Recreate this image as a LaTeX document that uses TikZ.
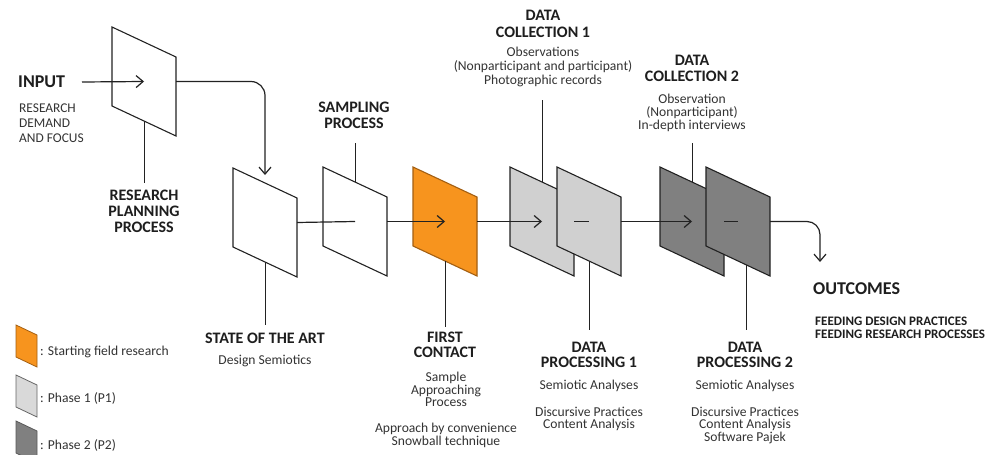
\documentclass[tikz,border=0pt]{standalone}
\usepackage{fontspec}
\setmainfont{Carlito}
\usetikzlibrary{arrows.meta}
\definecolor{orangefill}{HTML}{F7941E}
\definecolor{orangeline}{HTML}{A35F12}
\definecolor{lightfill}{HTML}{D0D0D0}
\definecolor{darkfill}{HTML}{808080}
\definecolor{inkline}{HTML}{222222}
\definecolor{headtext}{HTML}{1E1E1E}
\definecolor{bodytext}{HTML}{333333}
\newcommand{\plane}[4]{%
  \path[panel,#4] (#2,#3) -- ++(64,30) -- ++(0,79) -- ++(-64,-30) -- cycle;
  \coordinate (#1-c) at ({#2+32},{#3+54.5});
  \coordinate (#1-r) at ({#2+64},{#3+54.5});
  \coordinate (#1-t) at ({#2+32},{#3+15});
  \coordinate (#1-b) at ({#2+32},{#3+94});
}
\newcommand{\swatch}[3]{%
  \path[swatchbox,#3] (#1,#2) -- ++(21,10) -- ++(0,32) -- ++(-21,-10) -- cycle;
}
\begin{document}
\begin{tikzpicture}[x=1pt,y=-1pt,
  panel/.style={draw=inkline, line width=1.1pt, line join=miter},
  swatchbox/.style={line width=0.8pt},
  flow/.style={draw=inkline, line width=1.2pt},
  flowarrow/.style={flow, -{Straight Barb[length=7pt,width=12pt,line width=1.2pt]}},
  stem/.style={draw=inkline, line width=1pt},
  head/.style={font=\bfseries\fontsize{16}{16}\selectfont, text=headtext, align=center, inner sep=0pt, anchor=north},
  body/.style={font=\fontsize{13.6}{13}\selectfont, text=bodytext, align=center, inner sep=0pt, anchor=north},
  big/.style={font=\bfseries\fontsize{18}{18}\selectfont, text=headtext, inner sep=0pt, anchor=base west},
  legendtext/.style={font=\fontsize{13.6}{13}\selectfont, text=bodytext, inner sep=0pt, anchor=west}]
\useasboundingbox[fill=white] (0,0) rectangle (993,455);

% panels
\plane{pa}{112}{27}{fill=white}
\plane{pb}{233}{168}{fill=white}
\plane{pc}{323}{167}{fill=white}
\plane{pd}{413}{167}{fill=orangefill,draw=orangeline}
\plane{pe}{510}{167}{fill=lightfill}
\plane{pf}{557}{167}{fill=lightfill}
\plane{pg}{660}{167}{fill=darkfill}
\plane{ph}{706}{167}{fill=darkfill}

% free ends
\coordinate (in0) at (82,82);
\coordinate (pbin) at (265,175);
\coordinate (out0) at (820,262);
\coordinate (phs) at (746,265);
\coordinate (s1) at (144,183);
\coordinate (s2) at (265,325);
\coordinate (s3) at (355,143);
\coordinate (s4) at (445,327);
\coordinate (s5) at (542,100);
\coordinate (s6) at (589,330);
\coordinate (s7) at (692,143);
\coordinate (s8) at (746,330);

% flow
\draw[flowarrow] (in0) -- (pa-c);
\draw[flowarrow, rounded corners=14pt] (pa-r) -| (pbin);
\draw[flow] (pb-r) -- (pc-c);
\draw[flowarrow] (pc-r) -- (pd-c);
\draw[flowarrow] (pd-r) -- (pe-c);
\draw[flow] (pe-r) -- (pf-c);
\draw[flowarrow] (pf-r) -- (pg-c);
\draw[flow] (pg-r) -- (ph-c);
\draw[flowarrow, rounded corners=13pt] (ph-r) -| (out0);

% stems
\draw[stem] (pa-b) -- (s1);
\draw[stem] (pb-b) -- (s2);
\draw[stem] (pc-t) -- (s3);
\draw[stem] (pd-b) -- (s4);
\draw[stem] (pe-t) -- (s5);
\draw[stem] (pf-b) -- (s6);
\draw[stem] (pg-t) -- (s7);
\draw[stem] (phs) -- (s8);

% labels
\node[big] (input) at (18,87.5) {INPUT};
\node[font=\fontsize{13.4}{15}\selectfont, text=bodytext, align=left, inner sep=0pt, anchor=north west] (demand) at (19,103.5) {RESEARCH\\DEMAND\\AND FOCUS};
\node[head] (planning) at (144,190) {RESEARCH\\PLANNING\\PROCESS};
\node[head] (sampling) at (354,102) {SAMPLING\\PROCESS};
\node[head, font=\bfseries\fontsize{16}{17}\selectfont] (dc1) at (543,10) {DATA\\COLLECTION 1};
\node[body, font=\fontsize{13.6}{14}\selectfont] (dc1txt) at (543,47) {Observations\\(Nonparticipant and participant)\\Photographic records};
\node[head] (dc2) at (692,55) {DATA\\COLLECTION 2};
\node[body] (dc2txt) at (692,94) {Observation\\(Nonparticipant)\\In-depth interviews};
\node[head] (sota) at (265,333) {STATE OF THE ART};
\node[body] (sotatxt) at (265,355) {Design Semiotics};
\node[head, font=\bfseries\fontsize{16}{15}\selectfont] (fc) at (445,332) {FIRST\\CONTACT};
\node[body, font=\fontsize{13.6}{12.5}\selectfont] (fctxt) at (446,372) {Sample\\Approaching\\Process\\[13.5pt]Approach by convenience\\Snowball technique};
\node[head, font=\bfseries\fontsize{16}{15}\selectfont] (dp1) at (589,342) {DATA\\PROCESSING 1};
\node[body, font=\fontsize{13.6}{12.5}\selectfont] (dp1txt) at (589,380) {Semiotic Analyses\\[14pt]Discursive Practices\\Content Analysis};
\node[head, font=\bfseries\fontsize{16}{15}\selectfont] (dp2) at (745,342) {DATA\\PROCESSING 2};
\node[body, font=\fontsize{13.6}{12.5}\selectfont] (dp2txt) at (745,380) {Semiotic Analyses\\[14pt]Discursive Practices\\Content Analysis\\Software Pajek};
\node[big] (outcomes) at (813,294) {OUTCOMES};
\node[font=\bfseries\fontsize{13}{13}\selectfont, text=headtext, align=left, inner sep=0pt, anchor=north west] (feeding) at (815,317) {FEEDING DESIGN PRACTICES\\FEEDING RESEARCH PROCESSES};

% legend
\swatch{16}{325}{fill=orangefill,draw=orangeline}
\swatch{16}{375}{fill=lightfill!80!white,draw=black!60}
\swatch{16}{421}{fill=darkfill,draw=black!65}
\node[legendtext] (lg1) at (40,352) {: Starting field research};
\node[legendtext] (lg2) at (40,398) {: Phase 1 (P1)};
\node[legendtext] (lg3) at (40,445) {: Phase 2 (P2)};
\end{tikzpicture}
\end{document}
